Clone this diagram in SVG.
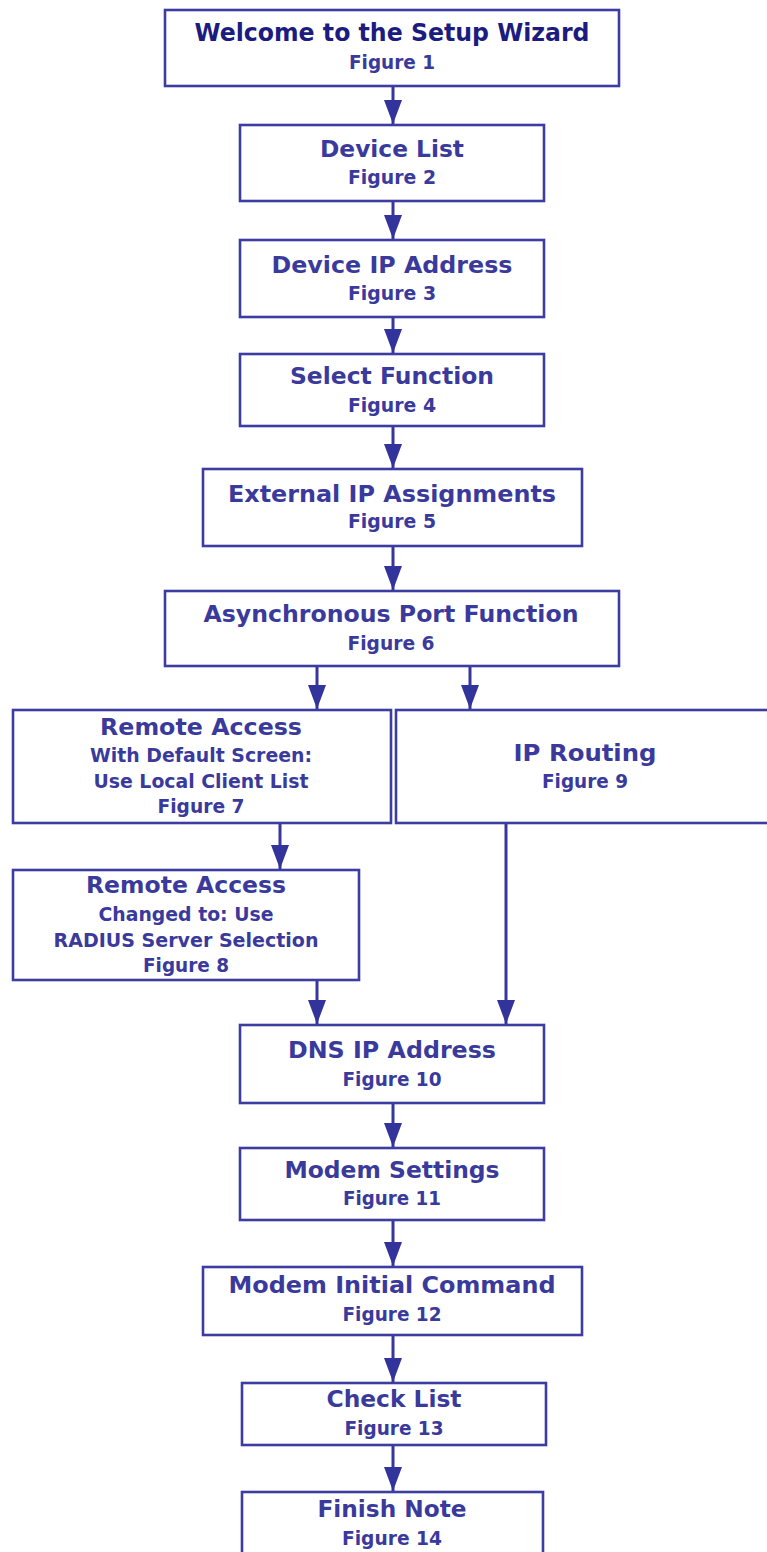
<svg xmlns="http://www.w3.org/2000/svg" width="767" height="1552" viewBox="0 0 767 1552">
  <style>
    .box { fill: #ffffff; stroke: #3c3ca2; stroke-width: 2.6; }
    .t { font-family: "DejaVu Sans", Verdana, sans-serif; font-weight: bold; fill: #3a3a9c; text-anchor: middle; }
    .h { font-size: 23.5px; }
    .h0 { font-size: 24.5px; fill: #1c1c80; }
    .s { font-size: 19.5px; }
    .f { font-size: 19px; }
    .conn line { stroke: #36369e; stroke-width: 3; marker-end: url(#arrow); }
  </style>
  <defs>
    <marker id="arrow" markerUnits="userSpaceOnUse" markerWidth="24" markerHeight="18" viewBox="0 0 24 18" refX="24" refY="9" orient="auto">
      <path d="M0,0 L24,9 L0,18 Z" fill="#33339c"/>
    </marker>
  </defs>

  <rect width="767" height="1552" fill="#ffffff"/>

  <!-- connectors -->
  <g id="connectors" class="conn">
    <line x1="393" y1="86" x2="393" y2="124"/>
    <line x1="393" y1="201" x2="393" y2="239"/>
    <line x1="393" y1="317" x2="393" y2="353"/>
    <line x1="393" y1="426" x2="393" y2="468"/>
    <line x1="393" y1="546" x2="393" y2="590"/>
    <line x1="317" y1="666" x2="317" y2="709"/>
    <line x1="470" y1="666" x2="470" y2="709"/>
    <line x1="280" y1="823" x2="280" y2="869"/>
    <line x1="317" y1="980" x2="317" y2="1024"/>
    <line x1="506" y1="823" x2="506" y2="1024"/>
    <line x1="393" y1="1103" x2="393" y2="1147"/>
    <line x1="393" y1="1220" x2="393" y2="1266"/>
    <line x1="393" y1="1335" x2="393" y2="1382"/>
    <line x1="393" y1="1445" x2="393" y2="1491"/>
  </g>

  <!-- nodes -->
  <g id="n1">
    <rect class="box" x="165" y="10" width="454" height="76"/>
    <text class="t h0" x="392" y="41" textLength="395" lengthAdjust="spacingAndGlyphs">Welcome to the Setup Wizard</text>
    <text class="t f" x="392" y="69" textLength="86" lengthAdjust="spacingAndGlyphs">Figure 1</text>
  </g>
  <g id="n2">
    <rect class="box" x="240" y="125" width="304" height="76"/>
    <text class="t h" x="392" y="157" textLength="144" lengthAdjust="spacingAndGlyphs">Device List</text>
    <text class="t f" x="392" y="184" textLength="88" lengthAdjust="spacingAndGlyphs">Figure 2</text>
  </g>
  <g id="n3">
    <rect class="box" x="240" y="240" width="304" height="77"/>
    <text class="t h" x="392" y="273" textLength="241" lengthAdjust="spacingAndGlyphs">Device IP Address</text>
    <text class="t f" x="392" y="300" textLength="88" lengthAdjust="spacingAndGlyphs">Figure 3</text>
  </g>
  <g id="n4">
    <rect class="box" x="240" y="354" width="304" height="72"/>
    <text class="t h" x="392" y="384" textLength="204" lengthAdjust="spacingAndGlyphs">Select Function</text>
    <text class="t f" x="392" y="412" textLength="88" lengthAdjust="spacingAndGlyphs">Figure 4</text>
  </g>
  <g id="n5">
    <rect class="box" x="203" y="469" width="379" height="77"/>
    <text class="t h" x="392" y="502" textLength="328" lengthAdjust="spacingAndGlyphs">External IP Assignments</text>
    <text class="t f" x="392" y="528" textLength="88" lengthAdjust="spacingAndGlyphs">Figure 5</text>
  </g>
  <g id="n6">
    <rect class="box" x="165" y="591" width="454" height="75"/>
    <text class="t h" x="391" y="622" textLength="375" lengthAdjust="spacingAndGlyphs">Asynchronous Port Function</text>
    <text class="t f" x="391" y="650" textLength="87" lengthAdjust="spacingAndGlyphs">Figure 6</text>
  </g>
  <g id="n7">
    <rect class="box" x="13" y="710" width="378" height="113"/>
    <text class="t h" x="201" y="735" textLength="202" lengthAdjust="spacingAndGlyphs">Remote Access</text>
    <text class="t s" x="201" y="762" textLength="222" lengthAdjust="spacingAndGlyphs">With Default Screen:</text>
    <text class="t s" x="201" y="788" textLength="215" lengthAdjust="spacingAndGlyphs">Use Local Client List</text>
    <text class="t f" x="201" y="813" textLength="87" lengthAdjust="spacingAndGlyphs">Figure 7</text>
  </g>
  <g id="n9">
    <rect class="box" x="396" y="710" width="380" height="113"/>
    <text class="t h" x="585" y="761" textLength="143" lengthAdjust="spacingAndGlyphs">IP Routing</text>
    <text class="t f" x="585" y="788" textLength="86" lengthAdjust="spacingAndGlyphs">Figure 9</text>
  </g>
  <g id="n8">
    <rect class="box" x="13" y="870" width="346" height="110"/>
    <text class="t h" x="186" y="893" textLength="200" lengthAdjust="spacingAndGlyphs">Remote Access</text>
    <text class="t s" x="186" y="921" textLength="175" lengthAdjust="spacingAndGlyphs">Changed to: Use</text>
    <text class="t s" x="186" y="947" textLength="265" lengthAdjust="spacingAndGlyphs">RADIUS Server Selection</text>
    <text class="t f" x="186" y="972" textLength="86" lengthAdjust="spacingAndGlyphs">Figure 8</text>
  </g>
  <g id="n10">
    <rect class="box" x="240" y="1025" width="304" height="78"/>
    <text class="t h" x="392" y="1058" textLength="208" lengthAdjust="spacingAndGlyphs">DNS IP Address</text>
    <text class="t f" x="392" y="1086" textLength="99" lengthAdjust="spacingAndGlyphs">Figure 10</text>
  </g>
  <g id="n11">
    <rect class="box" x="240" y="1148" width="304" height="72"/>
    <text class="t h" x="392" y="1178" textLength="215" lengthAdjust="spacingAndGlyphs">Modem Settings</text>
    <text class="t f" x="392" y="1205" textLength="98" lengthAdjust="spacingAndGlyphs">Figure 11</text>
  </g>
  <g id="n12">
    <rect class="box" x="203" y="1267" width="379" height="68"/>
    <text class="t h" x="392" y="1293" textLength="327" lengthAdjust="spacingAndGlyphs">Modem Initial Command</text>
    <text class="t f" x="392" y="1321" textLength="99" lengthAdjust="spacingAndGlyphs">Figure 12</text>
  </g>
  <g id="n13">
    <rect class="box" x="242" y="1383" width="304" height="62"/>
    <text class="t h" x="394" y="1407" textLength="135" lengthAdjust="spacingAndGlyphs">Check List</text>
    <text class="t f" x="394" y="1435" textLength="99" lengthAdjust="spacingAndGlyphs">Figure 13</text>
  </g>
  <g id="n14">
    <rect class="box" x="242" y="1492" width="301" height="70"/>
    <text class="t h" x="392" y="1517" textLength="149" lengthAdjust="spacingAndGlyphs">Finish Note</text>
    <text class="t f" x="392" y="1545" textLength="100" lengthAdjust="spacingAndGlyphs">Figure 14</text>
  </g>
</svg>
